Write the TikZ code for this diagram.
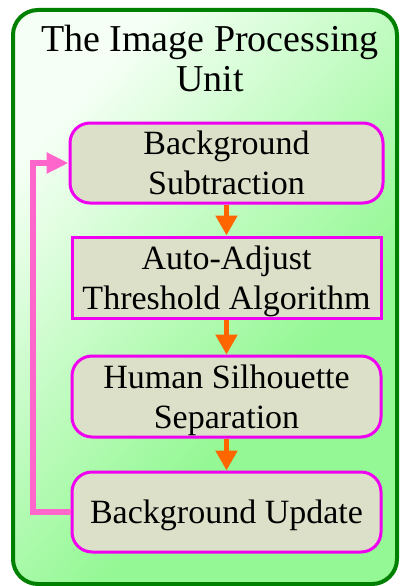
\documentclass[tikz,border=0pt]{standalone}
\usepackage{fontspec}
\setmainfont{Liberation Serif}
\usetikzlibrary{arrows.meta}

\definecolor{panelgreen}{RGB}{148,248,148}
\definecolor{panelwhite}{RGB}{245,255,245}
\definecolor{panelborder}{RGB}{0,128,0}
\definecolor{stepfill}{RGB}{221,224,200}
\definecolor{stepborder}{RGB}{240,0,240}
\definecolor{flow}{RGB}{255,102,0}
\definecolor{loopback}{RGB}{255,102,204}

% green panel: whitish in the upper left corner, green towards the lower right
\pgfdeclareverticalshading{panelshade}{100bp}{%
  color(0bp)=(panelgreen); color(38bp)=(panelgreen);
  color(74bp)=(panelwhite); color(100bp)=(panelwhite)}

\tikzset{
  stepbox/.style={draw=stepborder, line width=3pt, fill=stepfill,
    align=center, inner sep=0pt, text depth=0pt,
    font=\fontsize{34}{40}\selectfont},
  roundstep/.style={stepbox, rounded corners=20pt},
  flowarrow/.style={draw=flow, line width=5.5pt,
    -{Triangle[width=21pt,length=20pt]}},
  loopline/.style={draw=loopback, line width=5.5pt,
    -{Triangle[width=20pt,length=22pt]}},
}

\begin{document}
\begin{tikzpicture}[x=1pt,y=-1pt]
  \useasboundingbox (0,0) rectangle (399,586);

  % outer panel
  \shade[shading=panelshade, shading angle=48, rounded corners=25pt]
    (13,10) rectangle (397,584);
  \draw[panelborder, line width=4pt, rounded corners=25pt]
    (13,10) rectangle (397,584);

  \node[align=center, font=\fontsize{38}{40}\selectfont] (title) at (210,59)
    {The Image Processing\\Unit};

  % processing steps
  \node[roundstep, minimum width=313pt, minimum height=80pt] (b1) at (226.5,163)
    {Background\\Subtraction};
  \node[stepbox, minimum width=309pt, minimum height=81pt] (b2) at (226.5,277.5)
    {Auto-Adjust\\Threshold Algorithm};
  \node[roundstep, minimum width=309pt, minimum height=81pt] (b3) at (226.5,396.5)
    {Human Silhouette\\Separation};
  \node[roundstep, minimum width=309pt, minimum height=80pt] (b4) at (226.5,512)
    {Background Update};

  % forward flow
  \draw[flowarrow] (b1.south) -- (b2.north);
  \draw[flowarrow] (b2.south) -- (b3.north);
  \draw[flowarrow] (b3.south) -- (b4.north);

  % loop back to the first step
  \coordinate (loopx) at (33,0);
  \draw[loopline] (b4.west) -- (b4.west -| loopx) |- (b1.west);
\end{tikzpicture}
\end{document}
